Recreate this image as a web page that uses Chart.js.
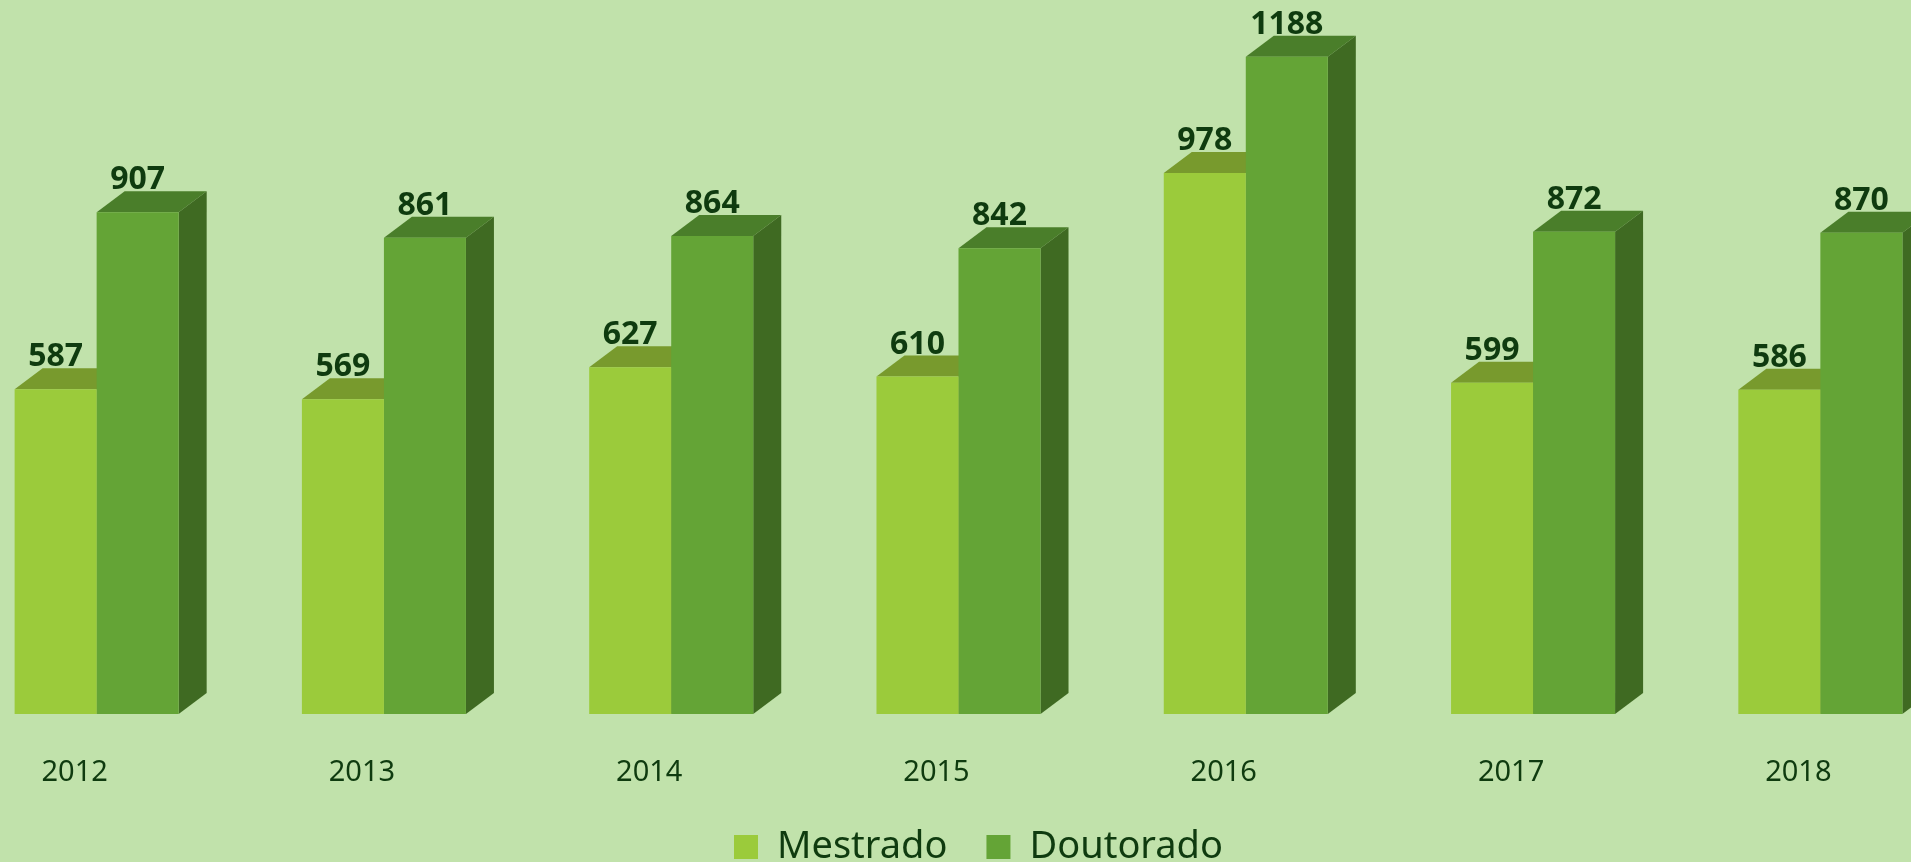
<!DOCTYPE html>
<html>
<head>
<meta charset="utf-8">
<script src="https://cdn.jsdelivr.net/npm/chart.js@4.4.0/dist/chart.umd.min.js"></script>
<style>
    html, body { margin: 0; padding: 0; background: #c1e2ab; overflow: hidden; }
    /* chart is wider than the window: first and last groups are cut off like the original */
    #wrap { position: absolute; left: -47px; top: 0; width: 2011px; height: 876px; }
</style>
</head>
<body>
<div id="wrap"><canvas id="chart"></canvas></div>
<script>
// data
const years = ['2012', '2013', '2014', '2015', '2016', '2017', '2018'];
const mestrado = [587, 569, 627, 610, 978, 599, 586];
const doutorado = [907, 861, 864, 842, 1188, 872, 870];

const textColor = '#0f3b0f';
const faceColors = [
    { front: '#9bcb3b', top: '#789a2d', side: '#5f7f22' },
    { front: '#64a436', top: '#4a7e2a', side: '#3f6a22' }
];
const DEPTH_X = 28;
const DEPTH_Y = 21;
const LEGEND_SHIFT = 20;

const depthPlugin = {
    id: 'depth3d',
    afterLayout: (chart) => {
        // legend sits a bit right of the plot centre in the original
        chart.legend.left += LEGEND_SHIFT;
        chart.legend.right += LEGEND_SHIFT;
    },
    beforeDatasetsDraw: (chart) => {
        const ctx = chart.ctx;
        ctx.save();
        chart.data.datasets.forEach((ds, di) => {
            const colors = faceColors[di];
            chart.getDatasetMeta(di).data.forEach(bar => {
                const { x, y, base, width } = bar.getProps(['x', 'y', 'base', 'width'], true);
                const l = x - width / 2;
                const r = x + width / 2;
                // top face
                ctx.fillStyle = colors.top;
                ctx.beginPath();
                ctx.moveTo(l, y);
                ctx.lineTo(l + DEPTH_X, y - DEPTH_Y);
                ctx.lineTo(r + DEPTH_X, y - DEPTH_Y);
                ctx.lineTo(r, y);
                ctx.closePath();
                ctx.fill();
                // side face
                ctx.fillStyle = colors.side;
                ctx.beginPath();
                ctx.moveTo(r, y);
                ctx.lineTo(r + DEPTH_X, y - DEPTH_Y);
                ctx.lineTo(r + DEPTH_X, base - DEPTH_Y);
                ctx.lineTo(r, base);
                ctx.closePath();
                ctx.fill();
            });
        });
        ctx.restore();
    },
    afterDatasetsDraw: (chart) => {
        const ctx = chart.ctx;
        ctx.save();
        ctx.font = 'bold 32px "Noto Sans"';
        ctx.fillStyle = textColor;
        ctx.textAlign = 'center';
        ctx.textBaseline = 'alphabetic';
        chart.data.datasets.forEach((ds, di) => {
            chart.getDatasetMeta(di).data.forEach((bar, i) => {
                const { x, y } = bar.getProps(['x', 'y'], true);
                ctx.fillText(ds.data[i], x, y - DEPTH_Y - 2);
            });
        });
        ctx.restore();
    }
};

new Chart(document.getElementById('chart'), {
    type: 'bar',
    data: {
        labels: years,
        datasets: [
            { label: 'Mestrado', data: mestrado, backgroundColor: faceColors[0].front, borderWidth: 0 },
            { label: 'Doutorado', data: doutorado, backgroundColor: faceColors[1].front, borderWidth: 0 }
        ]
    },
    options: {
        responsive: true,
        maintainAspectRatio: false,
        animation: false,
        datasets: { bar: { barPercentage: 1, categoryPercentage: 0.571 } },
        layout: { padding: { top: 17, left: 0, right: 0, bottom: 0 } },
        scales: {
            x: {
                grid: { display: false, drawTicks: false },
                border: { display: false },
                ticks: {
                    color: textColor,
                    font: { family: '"Noto Sans"', size: 29 },
                    padding: 41,
                    labelOffset: -22
                },
                afterFit: (scale) => { scale.height = 75; }
            },
            y: { display: false, min: 0, max: 1260 }
        },
        plugins: {
            legend: {
                position: 'bottom',
                labels: {
                    boxWidth: 24,
                    boxHeight: 24,
                    padding: 39,
                    color: textColor,
                    font: { family: '"Noto Sans"', size: 38 }
                }
            },
            tooltip: { enabled: false }
        }
    },
    plugins: [depthPlugin]
});
</script>
</body>
</html>
